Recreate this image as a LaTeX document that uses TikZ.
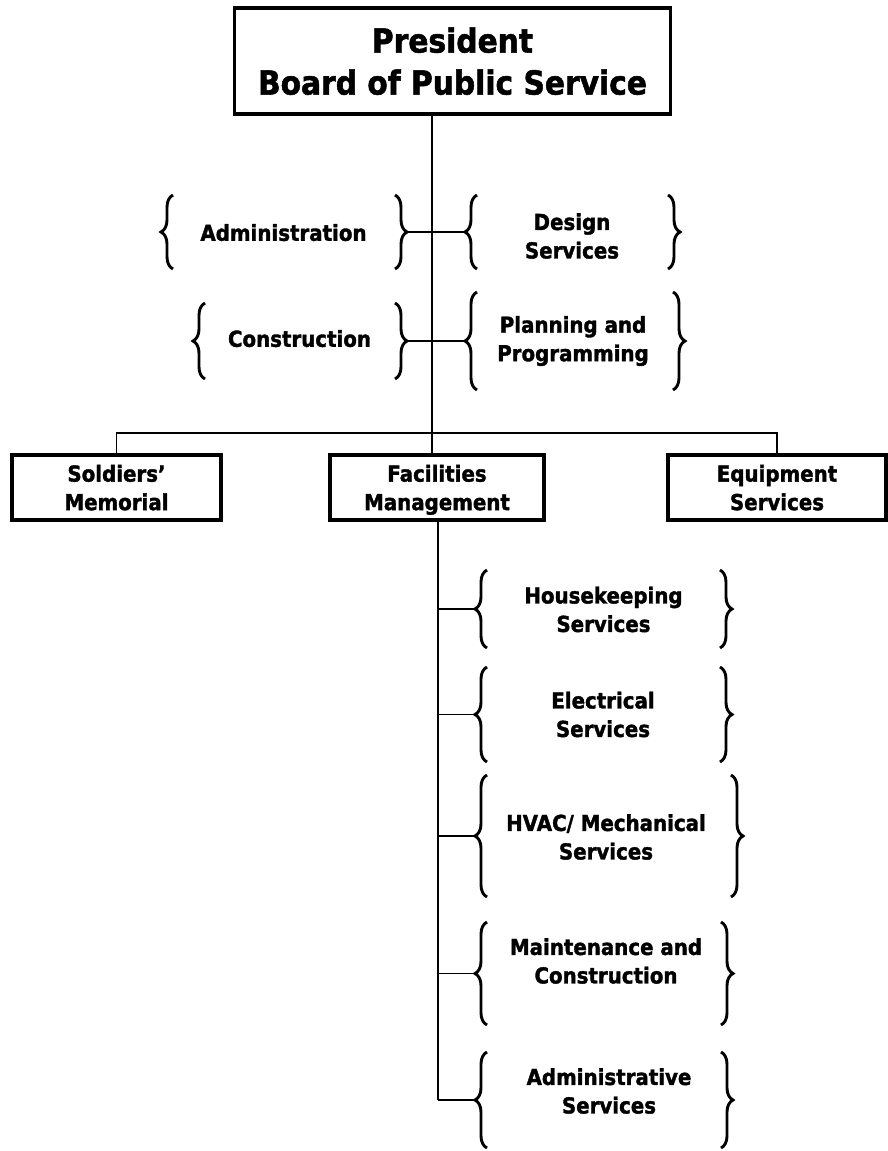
\documentclass[tikz,border=0pt]{standalone}
\usepackage{fontspec}
\setmainfont{DejaVu Sans}[FakeStretch=0.9, BoldFeatures={FakeBold=1.6}]
\usetikzlibrary{decorations.pathreplacing}
\newcommand\myboxfont{\fontsize{22}{28.5}\selectfont\bfseries}
\newcommand\mytitlefont{\fontsize{33}{42}\selectfont\bfseries}
\newcommand\lcurly[3]{\draw[curly] (#1+12,#3) -- (#1+12,#2);}
\newcommand\rcurly[3]{\draw[curly] (#1-12,#2) -- (#1-12,#3);}
\tikzset{
  box/.style={draw, line width=3.2pt, minimum height=65pt, inner sep=0pt, align=center, font=\myboxfont, text depth=0pt},
  lbl/.style={align=center, inner sep=0pt, font=\myboxfont},
  curly/.style={decorate, decoration={brace, amplitude=12pt}, line width=2.9pt},
  trunk/.style={line width=2.2pt},
  branch/.style={line width=1.6pt},
}
\begin{document}
\begin{tikzpicture}[x=1pt,y=-1pt]
\useasboundingbox (0,0) rectangle (888,1151);
% top box
\node[box, minimum width=436pt, minimum height=106pt, font=\mytitlefont] (pres) at (452.5,61) {President\\Board of Public Service};
% second level boxes
\node[box, minimum width=209pt] (sol) at (116.5,487.5) {Soldiers'\\Memorial};
\node[box, minimum width=214pt] (fac) at (437,487.5) {Facilities\\Management};
\node[box, minimum width=218pt] (equ) at (777,487.5) {Equipment\\Services};
% staff labels
\node[lbl] (adm) at (283.5,232.6) {Administration};
\node[lbl] (con) at (299.5,338.6) {Construction};
\node[lbl] (des) at (572,236) {Design\\Services};
\node[lbl] (pla) at (573,341) {Planning and\\Programming};
% sub units
\node[lbl] (hk) at (603.5,609.5) {Housekeeping\\Services};
\node[lbl] (el) at (603,714.5) {Electrical\\Services};
\node[lbl] (hv) at (606,837) {HVAC/ Mechanical\\Services};
\node[lbl] (mt) at (606,961) {Maintenance and\\Construction};
\node[lbl] (as) at (609,1091) {Administrative\\Services};
% braces
\lcurly{161}{195}{269} \rcurly{407}{195}{269}
\lcurly{465}{195}{269} \rcurly{680}{195}{269}
\lcurly{193}{303}{379} \rcurly{407}{303}{379}
\lcurly{465}{292}{390} \rcurly{685}{292}{390}
\lcurly{475}{570}{648} \rcurly{732}{570}{648}
\lcurly{475}{667}{762} \rcurly{732}{667}{762}
\lcurly{475}{775}{897} \rcurly{743}{775}{897}
\lcurly{475}{922}{1025} \rcurly{733}{922}{1025}
\lcurly{475}{1052}{1148} \rcurly{733}{1052}{1148}
% brace tips
\coordinate (admR) at (407,232);
\coordinate (desL) at (465,232);
\coordinate (conR) at (407,341);
\coordinate (plaL) at (465,341);
\coordinate (hkL) at (475,609);
\coordinate (elL) at (475,714.5);
\coordinate (hvL) at (475,836);
\coordinate (mtL) at (475,973.5);
\coordinate (asL) at (475,1100);
% trunks
\coordinate (t1) at (432,433);
\coordinate (t2) at (438,1100);
\draw[trunk] (pres.south -| t1) -- (t1) -- (fac.north -| t1);
\draw[branch] (sol.north) |- (t1) -| (equ.north);
\draw[branch] (admR) -- (desL);
\draw[branch] (conR) -- (plaL);
\draw[trunk] (fac.south -| t2) -- (t2);
\draw[branch] (hkL -| t2) -- (hkL);
\draw[branch] (elL -| t2) -- (elL);
\draw[branch] (hvL -| t2) -- (hvL);
\draw[branch] (mtL -| t2) -- (mtL);
\draw[branch] (t2) -- (asL);
\end{tikzpicture}
\end{document}
